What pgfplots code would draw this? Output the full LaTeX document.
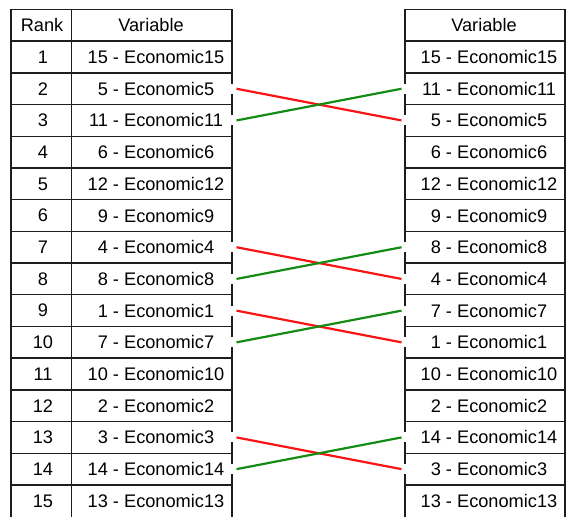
\documentclass[border=0pt]{standalone}
\usepackage{fontspec}
\setmainfont{Liberation Sans}
\usepackage{pgfplots}
\usepackage{pgfplotstable}
\pgfplotsset{compat=1.18}

\definecolor{swapred}{RGB}{250,20,20}
\definecolor{swapgreen}{RGB}{20,140,20}
\definecolor{gridline}{RGB}{30,30,30}

% rank, variable before, variable after
\pgfplotstableread[col sep=comma]{
rank,left,right
1,15 - Economic15,15 - Economic15
2,5 - Economic5,11 - Economic11
3,11 - Economic11,5 - Economic5
4,6 - Economic6,6 - Economic6
5,12 - Economic12,12 - Economic12
6,9 - Economic9,9 - Economic9
7,4 - Economic4,8 - Economic8
8,8 - Economic8,4 - Economic4
9,1 - Economic1,7 - Economic7
10,7 - Economic7,1 - Economic1
11,10 - Economic10,10 - Economic10
12,2 - Economic2,2 - Economic2
13,3 - Economic3,14 - Economic14
14,14 - Economic14,3 - Economic3
15,13 - Economic13,13 - Economic13
}\ranks

\begin{document}
\begin{tikzpicture}
\begin{axis}[
  width=579pt, height=517pt, scale only axis,
  xmin=0, xmax=579, ymin=-0.7997, ymax=15.5095,
  y dir=reverse, hide axis, clip=false,
  every node near coord/.append style={font=\fontsize{18.2}{20}\selectfont, inner sep=0pt, text=black},
  nodes near coords align=center,
]
\path (rel axis cs:0,0) rectangle (rel axis cs:1,1);

% table grid
\pgfplotsinvokeforeach{-0.5,0.5,...,14.5}{
  \draw[gridline, line width=1.4pt] (axis cs:11,#1) -- (axis cs:232,#1);
  \draw[gridline, line width=1.4pt] (axis cs:405,#1) -- (axis cs:565,#1);
}
\draw[gridline, line width=1.4pt] (axis cs:11,-0.5) -- (axis cs:11,15.5095);
\draw[gridline, line width=1.4pt] (axis cs:71.5,-0.5) -- (axis cs:71.5,15.5095);
\draw[gridline, line width=1.4pt] (axis cs:565,-0.5) -- (axis cs:565,15.5095);
\pgfplotsinvokeforeach{232,405}{
  \draw[gridline, line width=1.4pt]
    (axis cs:#1,-0.5) -- (axis cs:#1,1.842)
    (axis cs:#1,2.158) -- (axis cs:#1,2.842)
    (axis cs:#1,3.158) -- (axis cs:#1,6.842)
    (axis cs:#1,7.158) -- (axis cs:#1,7.842)
    (axis cs:#1,8.158) -- (axis cs:#1,8.842)
    (axis cs:#1,9.158) -- (axis cs:#1,9.842)
    (axis cs:#1,10.158) -- (axis cs:#1,12.842)
    (axis cs:#1,13.158) -- (axis cs:#1,13.842)
    (axis cs:#1,14.158) -- (axis cs:#1,15.5095);
}

% headers
\node[font=\fontsize{18.2}{20}\selectfont, inner sep=0pt] at (axis cs:42,0) {Rank};
\node[font=\fontsize{18.2}{20}\selectfont, inner sep=0pt] at (axis cs:151,0) {Variable};
\node[font=\fontsize{18.2}{20}\selectfont, inner sep=0pt] at (axis cs:484,0) {Variable};

% cell texts
\addplot[draw=none, nodes near coords, point meta=explicit symbolic]
  table[x expr=43, y=rank, meta=rank] {\ranks};
\addplot[draw=none, nodes near coords, point meta=explicit symbolic]
  table[x expr=156, y=rank, meta=left] {\ranks};
\addplot[draw=none, nodes near coords, point meta=explicit symbolic]
  table[x expr=489, y=rank, meta=right] {\ranks};

% moved down (red) and moved up (green)
\addplot[swapred, line width=2.2pt] coordinates {(236.5,2) (401.5,3)};
\addplot[swapgreen, line width=2.2pt] coordinates {(236.5,3) (401.5,2)};
\addplot[swapred, line width=2.2pt] coordinates {(236.5,7) (401.5,8)};
\addplot[swapgreen, line width=2.2pt] coordinates {(236.5,8) (401.5,7)};
\addplot[swapred, line width=2.2pt] coordinates {(236.5,9) (401.5,10)};
\addplot[swapgreen, line width=2.2pt] coordinates {(236.5,10) (401.5,9)};
\addplot[swapred, line width=2.2pt] coordinates {(236.5,13) (401.5,14)};
\addplot[swapgreen, line width=2.2pt] coordinates {(236.5,14) (401.5,13)};
\end{axis}
\end{tikzpicture}
\end{document}
